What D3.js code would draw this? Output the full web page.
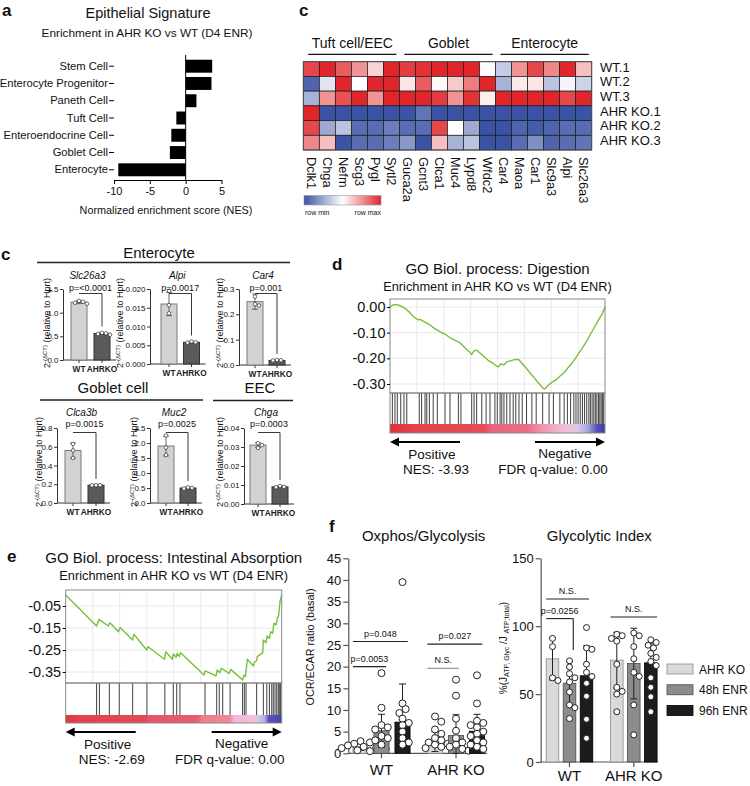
<!DOCTYPE html>
<html>
<head>
<meta charset="utf-8">
<script src="https://cdn.jsdelivr.net/npm/d3@7"></script>
<style>
html,body{margin:0;padding:0;background:#fff;}
svg{display:block;}
</style>
</head>
<body>
<svg id="fig" width="750" height="786" xmlns="http://www.w3.org/2000/svg"></svg>
<script>
// ================= DATA =================
// Panel a: NES bars
const nesCategories = ["Stem Cell","Enterocyte Progenitor","Paneth Cell","Tuft Cell","Enteroendocrine Cell","Goblet Cell","Enterocyte"];
const nesValues = [3.7, 3.6, 1.5, -1.3, -2.0, -2.2, -9.4];
const nesTicks = [-10, -5, 0, 5];

// Panel c: heatmap
const heatGenes = ["Dclk1","Chga","Nefm","Scg3","Pygl","Sytl2","Guca2a","Gcnt3","Clca1","Muc4","Lypd8","Wfdc2","Car4","Maoa","Car1","Slc9a3","Alpi","Slc26a3"];
const heatSamples = ["WT.1","WT.2","WT.3","AHR KO.1","AHR KO.2","AHR KO.3"];
const heatGroups = ["Tuft cell/EEC","Goblet","Enterocyte"];
const heatGroupSizes = [6, 6, 6];
const heatWT1 = [0.85,1,0.75,0.5,0.2,1, 0.9,0.95,1,1,1,0.02, -0.3,0.5,0.85,0.55,1,0.3];
const heatWT2 = [-0.9,-0.15,1,0,1,1, 0.12,0.75,0.03,0.25,0.6,1, -0.45,0.1,0.12,-0.35,-0.05,-0.25];
const heatWT3 = [-0.45,0.5,0.8,1,0.5,1, 1,1,0.9,0.5,0.95,0.08, 1,1,1,1,0.85,1];
const heatKO1 = [1,-1,-1,-1,-1,-1, -1,-0.8,-1,-1,-1,-1, -1,-1,-1,-1,-1,-1];
const heatKO2 = [0.85,-0.5,-0.35,-0.85,-0.85,-0.75, -0.85,-0.85,0.85,0,-0.5,-1, -1,-0.9,-0.95,-0.9,-0.85,-0.85];
const heatKO3 = [0.55,0.3,-1,-0.85,-0.85,-0.75, -0.6,-1,0.3,-0.45,-0.35,-1, -1,-0.85,-0.65,-0.9,-0.85,-0.8];
const heatLegendLabels = ["row min","row max"];

// Panel c: qPCR
const qpcrGenes = ["Slc26a3","Alpi","Car4","Clca3b","Muc2","Chga"];
const qpcrGroupLabels = ["WT","AHRKO"];
const qpcrWTMean = [1.22, 0.0160, 0.25, 0.56, 1.90, 0.031];
const qpcrKOMean = [0.56, 0.0058, 0.018, 0.19, 0.50, 0.009];
const qpcrWTSD = [0.03, 0.0031, 0.03, 0.08, 0.33, 0.0012];
const qpcrKOSD = [0.02, 0.0002, 0.002, 0.004, 0.03, 0.0004];
const qpcrWTPoints = [[1.25,1.23,1.21,1.19],[0.0195,0.0157,0.0135],[0.27,0.24,0.235],[0.63,0.56,0.48],[2.25,1.85,1.6],[0.032,0.031,0.0295]];
const qpcrKOPoints = [[0.575,0.565,0.55,0.535],[0.006,0.0058,0.0057],[0.02,0.019,0.018],[0.19,0.19,0.188],[0.52,0.5,0.48],[0.0095,0.009,0.0088]];
const qpcrPValues = ["p=<0.0001","p=0.0017","p=0.001","p=0.0015","p=0.0025","p=0.0003"];
const qpcrYMax = [1.5, 0.020, 0.3, 0.8, 2.5, 0.04];
const qpcrYStep = [0.5, 0.005, 0.1, 0.2, 0.5, 0.01];
const qpcrDecimals = [1, 3, 1, 1, 1, 2];
const qpcrSections = ["Enterocyte","Goblet cell","EEC"];

// Panel d: GSEA Digestion
const esDRank = [0,1.5,3,5,7,9,11,13,14,16,18.6,21,24,26,28,30,32.6,35,37,38,39,40.3,42,44,46,48,49.5,50.4,51.5,53,54.3,56,58,59.7,61,63,65,67,68.5,70,71,72,73,75,77,79,81,83,85,87,89,91,93,95,97,98.5,100];
const esDScore = [0,0.008,0.01,0.004,-0.005,-0.02,-0.038,-0.05,-0.048,-0.058,-0.07,-0.085,-0.1,-0.108,-0.12,-0.128,-0.14,-0.16,-0.175,-0.185,-0.172,-0.168,-0.18,-0.195,-0.21,-0.22,-0.23,-0.233,-0.222,-0.225,-0.214,-0.21,-0.205,-0.204,-0.215,-0.235,-0.255,-0.275,-0.29,-0.305,-0.315,-0.32,-0.31,-0.295,-0.285,-0.27,-0.255,-0.235,-0.215,-0.19,-0.165,-0.14,-0.11,-0.08,-0.05,-0.03,0];
const hitsD = [1.1,2.3,3.4,5,6.5,7.8,13.6,14.7,16.3,17.1,18.3,20.1,22,25.6,27.9,31.8,33,38,39.1,40.3,42.7,44.7,46.5,48.8,49.9,51.2,52,53,54.3,55.8,57.3,58.5,60,61.5,63.5,66,68,71,74,76,79,81,82.5,84,85.5,86.5,87.5,88.5,89.5,90.5,91.5,92.5,93.2,94,94.8,95.5,96.2,97,97.6,98.2,98.8,99.4];
const esDTicks = [0, -0.1, -0.2, -0.3];

// Panel e: GSEA Intestinal absorption
const esERank = [0,14.3,15.4,19.7,20.5,24.4,25.2,31,31.6,37.5,38.1,45.7,46.3,49.4,49.8,51.1,51.7,52.6,53.2,64,64.6,69.6,70.2,71.4,72,75.7,76.4,81.9,82.5,83.2,84.1,86.9,87.2,88.4,88.7,91.2,91.5,92.7,93.3,94.3,94.9,95.8,96.4,97.4,98,98.6,99.2,100];
const esEScore = [0,-0.141,-0.111,-0.141,-0.126,-0.167,-0.148,-0.205,-0.179,-0.25,-0.235,-0.292,-0.258,-0.292,-0.268,-0.283,-0.265,-0.28,-0.262,-0.364,-0.345,-0.368,-0.341,-0.353,-0.333,-0.356,-0.338,-0.386,-0.364,-0.371,-0.292,-0.323,-0.308,-0.298,-0.28,-0.262,-0.205,-0.217,-0.186,-0.197,-0.167,-0.174,-0.129,-0.136,-0.106,-0.091,-0.03,0];
const hitsE = [14.3,15.6,20.2,24.8,31,37.6,45.9,49.8,51.4,52.9,64.5,69.9,71.1,72.7,76.1,81.9,82.7,83.5,88.4,91.5,93.1,94.3,95.4,96.1,96.9,97.7,98.4,98.9,99.5];
const esETicks = [-0.05, -0.15, -0.25, -0.35];

// Panel f
const metabGroups = ["WT","AHR KO"];
const metabConditions = ["AHR KO","48h ENR","96h ENR"];
const oxMean = [[1.5, 5.2, 7.2],[2.7, 4.1, 5.1]];
const oxSD = [[0.8, 3.8, 8.8],[2.3, 4.8, 3.9]];
const oxPoints = [
  [[2.8,2.2,1.8,1.5,1.2,1.0,0.7,0.5,1.3,2.5],
   [18.5,10.5,6.5,6.0,5.5,4.0,3.5,3.0,2.0],
   [39.5,11.5,10.2,9.3,8.0,7.0,6.5,5.0,3.5,2.5,2.0]],
  [[8.5,7.3,5.5,4.5,3.5,2.5,2.0,1.5,1.0,1.2,2.2,3.0],
   [17.0,13.3,8.0,5.2,3.5,2.5,2.0,1.5,1.0,0.6],
   [18.0,11.5,7.5,7.0,6.5,6.0,5.0,4.5,4.0,3.0,2.5,2.0,1.5,1.0]]
];
const oxTicks = [0,5,10,15,20,25,30,35,40,45];
const oxSigLabels = ["p=0.048","p=0.0053","p=0.027","N.S."];
const glyMean = [[76, 58, 63.5],[75, 72.5, 73]];
const glySD = [[15.6, 16, 22],[20.5, 26, 14]];
const glyPoints = [
  [[91,85,62,60],
   [74.5,70,65,62,59,51.5,42,40,32],
   [99,84,83,72,66,63,58,48.5,31.5,17.5]],
  [[94,93,91,89,72,55,52,50,37],
   [95,93,85,76,66,63,42,20],
   [90,88,86,84,80,77,74,71,62,55,48,37]]
];
const glyTicks = [0,50,100,150];
const glySigLabels = ["N.S.","p=0.0256","N.S."];

// ================= DRAWING =================
const FONT = '"Liberation Sans", Arial, Helvetica, sans-serif';
const svg = d3.select("#fig").attr("font-family", FONT);
svg.append("defs");

function txt(g, x, y, s, o = {}) {
  const t = g.append("text").attr("x", x).attr("y", y).text(s)
    .attr("font-size", o.size || 12).attr("text-anchor", o.anchor || "start").attr("fill", o.fill || "#111");
  if (o.weight) t.attr("font-weight", o.weight);
  if (o.style) t.attr("font-style", o.style);
  return t;
}
function styleAxis(g, size) {
  g.attr("font-family", FONT).attr("font-size", size);
  g.selectAll("text").attr("fill", "#111");
}
function swarm(values, yScale, cx, r, spread) {
  const placed = [];
  const order = values.map(v => ({ v, y: yScale(v) })).sort((a, b) => b.v - a.v);
  const cands = [0];
  for (let j = 1; j < 30; j++) cands.push(j * spread, -j * spread);
  order.forEach(p => {
    let x = cx;
    for (const dx of cands) {
      if (placed.every(q => Math.hypot(q.x - (cx + dx), q.y - p.y) >= 2 * r * 0.92)) { x = cx + dx; break; }
    }
    placed.push({ x, y: p.y });
  });
  return placed;
}

// ---------- Panel a ----------
{
  const g = svg.append("g");
  txt(g, 2, 16, "a", { size: 17, weight: "bold" });
  txt(g, 148, 18, "Epithelial Signature", { size: 14.5, anchor: "middle" });
  txt(g, 147, 37, "Enrichment in AHR KO vs WT (D4 ENR)", { size: 11.8, anchor: "middle" });
  const x = d3.scaleLinear().domain([-10, 5]).range([114, 221.5]);
  const y = d3.scaleBand().domain(nesCategories).range([58, 178]).paddingInner(0.25).paddingOuter(0.1);
  g.selectAll("rect.nes").data(nesValues).join("rect").attr("class", "nes")
    .attr("x", d => x(Math.min(0, d))).attr("width", d => Math.abs(x(d) - x(0)))
    .attr("y", (d, i) => y(nesCategories[i])).attr("height", y.bandwidth()).attr("fill", "#000");
  const xa = g.append("g").attr("transform", "translate(0,180)")
    .call(d3.axisBottom(x).tickValues(nesTicks).tickSize(4).tickSizeOuter(0).tickFormat(d => String(d)));
  styleAxis(xa, 11);
  g.append("line").attr("x1", x(0)).attr("x2", x(0)).attr("y1", 55).attr("y2", 180).attr("stroke", "#000");
  const ya = g.append("g").attr("transform", "translate(114,0)").call(d3.axisLeft(y).tickSize(5).tickPadding(1));
  ya.select(".domain").remove();
  styleAxis(ya, 11.2);
  txt(g, 166, 214, "Normalized enrichment score (NES)", { size: 10.8, anchor: "middle" });
}

// ---------- Panel c heatmap ----------
{
  const g = svg.append("g");
  txt(g, 299, 16, "c", { size: 17, weight: "bold" });
  const x = d3.scaleBand().domain(heatGenes).range([303.3, 591.7]);
  const y = d3.scaleBand().domain(heatSamples).range([61.7, 150]);
  const color = d3.scaleLinear().domain([-1, 0, 1]).range(["#3a53a4", "#ffffff", "#e1262b"]);
  const rows = [heatWT1, heatWT2, heatWT3, heatKO1, heatKO2, heatKO3];
  rows.forEach((row, ri) => {
    g.selectAll(null).data(row).join("rect")
      .attr("x", (d, i) => x(heatGenes[i])).attr("y", y(heatSamples[ri]))
      .attr("width", x.bandwidth()).attr("height", y.bandwidth())
      .attr("fill", d => color(d)).attr("stroke", "#1a1a1a").attr("stroke-width", 0.7);
  });
  g.append("rect").attr("x", 303.3).attr("y", 61.7).attr("width", 288.4).attr("height", 88.3)
    .attr("fill", "none").attr("stroke", "#555").attr("stroke-width", 1);
  heatSamples.forEach(s => txt(g, 600, y(s) + y.bandwidth() / 2 + 2.5, s, { size: 13 }));
  heatGenes.forEach(gn => {
    g.append("text").attr("transform", `translate(${x(gn) + x.bandwidth() / 2},157) rotate(90)`)
      .attr("dy", "0.35em").attr("font-size", 12.8).attr("fill", "#111").text(gn);
  });
  let start = 0;
  heatGroups.forEach((gr, i) => {
    const a = x(heatGenes[start]), b = x(heatGenes[start + heatGroupSizes[i] - 1]) + x.bandwidth();
    g.append("line").attr("x1", a + 5).attr("x2", b - 3).attr("y1", 54.3).attr("y2", 54.3).attr("stroke", "#111").attr("stroke-width", 1.3);
    txt(g, (a + b) / 2 + 1, 48, gr, { size: 14, anchor: "middle" });
    start += heatGroupSizes[i];
  });
  const lg = svg.select("defs").append("linearGradient").attr("id", "hmgrad");
  [[0, "#3a53a4"], [0.5, "#ffffff"], [1, "#e1262b"]].forEach(s => lg.append("stop").attr("offset", s[0]).attr("stop-color", s[1]));
  g.append("rect").attr("x", 304).attr("y", 195.5).attr("width", 77).attr("height", 9.5).attr("fill", "url(#hmgrad)").attr("stroke", "#999").attr("stroke-width", 0.6);
  txt(g, 305, 215, heatLegendLabels[0], { size: 7 });
  txt(g, 381, 215, heatLegendLabels[1], { size: 7, anchor: "end" });
}

// ---------- Panel c qPCR ----------
{
  const g = svg.append("g");
  txt(g, 1, 260, "c", { size: 17, weight: "bold" });
  txt(g, 159, 258, qpcrSections[0], { size: 15, anchor: "middle" });
  g.append("line").attr("x1", 37).attr("x2", 290).attr("y1", 262.5).attr("y2", 262.5).attr("stroke", "#222").attr("stroke-width", 1.6);
  txt(g, 113, 393, qpcrSections[1], { size: 15, anchor: "middle" });
  g.append("line").attr("x1", 40).attr("x2", 203).attr("y1", 400).attr("y2", 400).attr("stroke", "#222").attr("stroke-width", 1.6);
  txt(g, 260, 393, qpcrSections[2], { size: 15, anchor: "middle" });
  g.append("line").attr("x1", 213).attr("x2", 293).attr("y1", 400.5).attr("y2", 400.5).attr("stroke", "#222").attr("stroke-width", 1.6);

  const L = [
    { ax: 63, zero: 360, top: 289, wt: 79, ko: 102, yl: 50, row: 0 },
    { ax: 150, zero: 364, top: 289, wt: 169, ko: 191.5, yl: 123, row: 0 },
    { ax: 239, zero: 365, top: 289, wt: 255, ko: 277, yl: 223, row: 0 },
    { ax: 57, zero: 503, top: 428, wt: 73, ko: 96, yl: 42, row: 1 },
    { ax: 150, zero: 503, top: 428, wt: 166, ko: 188, yl: 137, row: 1 },
    { ax: 244, zero: 504, top: 428, wt: 258, ko: 280, yl: 223, row: 1 },
  ];
  const bw = 16;
  qpcrGenes.forEach((gene, i) => {
    const l = L[i];
    const y = d3.scaleLinear().domain([0, qpcrYMax[i]]).range([l.zero, l.top]);
    const ticks = d3.range(0, qpcrYMax[i] + qpcrYStep[i] / 2, qpcrYStep[i]);
    const ya = g.append("g").attr("transform", `translate(${l.ax},0)`)
      .call(d3.axisLeft(y).tickValues(ticks).tickSize(3).tickPadding(1.5).tickSizeOuter(0).tickFormat(d => d.toFixed(qpcrDecimals[i])));
    styleAxis(ya, 8);
    ya.selectAll("path,line").attr("stroke", "#333");
    g.append("line").attr("x1", l.ax).attr("x2", l.ko + 14).attr("y1", l.zero).attr("y2", l.zero).attr("stroke", "#333");
    [l.wt, l.ko].forEach((cx, k) => {
      g.append("line").attr("x1", cx).attr("x2", cx).attr("y1", l.zero).attr("y2", l.zero + 3).attr("stroke", "#333");
      txt(g, cx, l.zero + 11.5, qpcrGroupLabels[k], { size: 8.3, anchor: "middle", weight: "bold", fill: "#222" });
    });
    const means = [qpcrWTMean[i], qpcrKOMean[i]];
    const sds = [qpcrWTSD[i], qpcrKOSD[i]];
    const pts = [qpcrWTPoints[i], qpcrKOPoints[i]];
    [l.wt, l.ko].forEach((cx, k) => {
      g.append("rect").attr("x", cx - bw / 2).attr("y", y(means[k])).attr("width", bw).attr("height", l.zero - y(means[k]))
        .attr("fill", k === 0 ? "#d2d2d2" : "#5a5a5a").attr("stroke", k === 0 ? "#7a7a7a" : "#333").attr("stroke-width", 1);
      const hi = y(means[k] + sds[k]), lo = y(Math.max(0, means[k] - sds[k]));
      g.append("line").attr("x1", cx).attr("x2", cx).attr("y1", hi).attr("y2", lo).attr("stroke", "#444").attr("stroke-width", 0.8);
      g.append("line").attr("x1", cx - 3).attr("x2", cx + 3).attr("y1", hi).attr("y2", hi).attr("stroke", "#444").attr("stroke-width", 0.8);
      g.append("line").attr("x1", cx - 3).attr("x2", cx + 3).attr("y1", lo).attr("y2", lo).attr("stroke", "#444").attr("stroke-width", 0.8);
      swarm(pts[k], y, cx, 1.8, 2).forEach(p => {
        g.append("circle").attr("cx", p.x).attr("cy", p.y).attr("r", 1.8).attr("fill", "#fff").attr("stroke", "#333").attr("stroke-width", 0.7);
      });
    });
    const mid = (l.wt + l.ko) / 2;
    txt(g, mid - 3, l.row === 0 ? 279 : 416, gene, { size: 10, anchor: "middle", style: "italic" });
    txt(g, mid, l.row === 0 ? 290.5 : 426.5, qpcrPValues[i], { size: 9, anchor: "middle" });
    const by = l.top + 4.5;
    const koTop = y(qpcrKOMean[i] + qpcrKOSD[i]) - 6;
    g.append("path").attr("d", `M${l.wt},${by}H${l.ko}V${koTop}`).attr("fill", "none").attr("stroke", "#222").attr("stroke-width", 0.9);
    const cy = l.row === 0 ? 323 : 462;
    const t = g.append("text").attr("transform", `translate(${l.yl},${cy}) rotate(-90)`).attr("text-anchor", "middle").attr("font-size", 9).attr("fill", "#111");
    t.append("tspan").text("2");
    t.append("tspan").attr("dy", -3.5).attr("font-size", 6).text("-(ΔCT)");
    t.append("tspan").attr("dy", 3.5).text(" (relative to Hprt)");
  });
}

// ---------- GSEA panels ----------
function gsea(cfg) {
  const g = svg.append("g");
  const { x0, x1, top, yES, yHits, yBar } = cfg;
  const x = d3.scaleLinear().domain([0, 100]).range([x0, x1]);
  const y = d3.scaleLinear().domain(cfg.yDom).range(cfg.yRange);
  txt(g, cfg.lx, cfg.ly, cfg.letter, { size: 17, weight: "bold" });
  txt(g, (x0 + x1) / 2, cfg.ty, cfg.title, { size: 15, anchor: "middle" });
  txt(g, (x0 + x1) / 2, cfg.ty + 17, "Enrichment in AHR KO vs WT (D4 ENR)", { size: 12.8, anchor: "middle" });
  d3.range(1, 8).forEach(k => {
    const gx = x0 + (x1 - x0) * k / 8;
    g.append("line").attr("x1", gx).attr("x2", gx).attr("y1", top).attr("y2", yES).attr("stroke", "#e4e4e4").attr("stroke-width", 0.8);
  });
  cfg.ticks.forEach(t => {
    g.append("line").attr("x1", x0).attr("x2", x1).attr("y1", y(t)).attr("y2", y(t)).attr("stroke", "#e4e4e4").attr("stroke-width", 0.8);
  });
  const line = d3.line().x(d => x(d[0])).y(d => y(d[1]));
  g.append("path").datum(cfg.rank.map((r, i) => [r, cfg.score[i]])).attr("d", line)
    .attr("fill", "none").attr("stroke", "#78bf3a").attr("stroke-width", 1.4).attr("stroke-linejoin", "round");
  g.append("rect").attr("x", x0).attr("y", top).attr("width", x1 - x0).attr("height", yES - top).attr("fill", "none").attr("stroke", "#888").attr("stroke-width", 1);
  const ya = g.append("g").attr("transform", `translate(${x0},0)`)
    .call(d3.axisLeft(y).tickValues(cfg.ticks).tickSize(3).tickPadding(1.5).tickFormat(d => d.toFixed(2)));
  ya.select(".domain").remove();
  styleAxis(ya, 14.5);
  g.selectAll(null).data(cfg.hits).join("line")
    .attr("x1", d => x(d)).attr("x2", d => x(d)).attr("y1", yES).attr("y2", yHits)
    .attr("stroke", "#2a2a2a").attr("stroke-width", 0.9);
  const gid = "gb" + cfg.letter;
  const lg = svg.select("defs").append("linearGradient").attr("id", gid);
  cfg.bar.forEach(s => lg.append("stop").attr("offset", s[0]).attr("stop-color", s[1]));
  g.append("rect").attr("x", x0).attr("y", yHits).attr("width", x1 - x0).attr("height", yBar - yHits).attr("fill", `url(#${gid})`);
  g.append("rect").attr("x", x0).attr("y", yES).attr("width", x1 - x0).attr("height", yBar - yES).attr("fill", "none").attr("stroke", "#888").attr("stroke-width", 1);
  const ay = yBar + 9;
  g.append("line").attr("x1", x0 + 7).attr("x2", x0 + 70).attr("y1", ay).attr("y2", ay).attr("stroke", "#000").attr("stroke-width", 2);
  g.append("path").attr("d", `M${x0},${ay}l9,-4.5v9z`).attr("fill", "#000");
  g.append("line").attr("x1", x1 - 70).attr("x2", x1 - 7).attr("y1", ay).attr("y2", ay).attr("stroke", "#000").attr("stroke-width", 2);
  g.append("path").attr("d", `M${x1},${ay}l-9,-4.5v9z`).attr("fill", "#000");
  txt(g, x0 + 42, ay + 17, "Positive", { size: 13.5, anchor: "middle" });
  txt(g, x0 + 46, ay + 32, cfg.nes, { size: 13.5, anchor: "middle" });
  txt(g, x1 - 40, ay + 16, "Negative", { size: 13.5, anchor: "middle" });
  txt(g, x1 - 52, ay + 32, "FDR q-value: 0.00", { size: 13.5, anchor: "middle" });
}
gsea({
  letter: "d", lx: 332, ly: 270, title: "GO Biol. process: Digestion", ty: 274,
  x0: 390, x1: 605, top: 299, yES: 393, yHits: 424, yBar: 433,
  yDom: [0, -0.3], yRange: [307, 384], ticks: esDTicks,
  rank: esDRank, score: esDScore, hits: hitsD, nes: "NES: -3.93",
  bar: [[0, "#df3338"], [0.12, "#e2434a"], [0.44, "#e44e57"], [0.47, "#e8647a"], [0.64, "#ea6e85"], [0.7, "#ef93aa"], [0.8, "#f4bad4"], [0.87, "#dcc8e6"], [0.92, "#a8a4dc"], [0.96, "#5656b8"], [1, "#3a3aa6"]]
});
gsea({
  letter: "e", lx: 7, ly: 562, title: "GO Biol. process: Intestinal Absorption", ty: 563,
  x0: 65.7, x1: 281.7, top: 590, yES: 683, yHits: 715, yBar: 723,
  yDom: [0, -0.35], yRange: [595, 672], ticks: esETicks,
  rank: esERank, score: esEScore, hits: hitsE, nes: "NES: -2.69",
  bar: [[0, "#df3439"], [0.06, "#e2414a"], [0.37, "#e44a52"], [0.38, "#e45466"], [0.61, "#e75e6f"], [0.63, "#ee7d8b"], [0.76, "#f08896"], [0.78, "#f7b7d6"], [0.87, "#f2c0dc"], [0.89, "#cfcbea"], [0.92, "#b6b4e2"], [0.94, "#5656b8"], [1, "#4242aa"]]
});

// ---------- Panel f ----------
const barFill = ["#d9d9d9", "#8c8c8c", "#1c1c1c"];
const barStroke = ["#8a8a8a", "#4a4a4a", "#000"];
function metab(cfg) {
  const g = svg.append("g");
  const y = d3.scaleLinear().domain([0, cfg.max]).range([cfg.zero, cfg.topY]);
  const gx = d3.scalePoint().domain(metabGroups).range(cfg.groupX);
  const inner = d3.scaleBand().domain(metabConditions).range([-cfg.half, cfg.half]).paddingInner(cfg.pad).paddingOuter(cfg.pad / 2);
  txt(g, (cfg.axisX + cfg.axisEnd) / 2 + cfg.titleDx, 540.7, cfg.title, { size: 15, anchor: "middle" });
  const ya = g.append("g").attr("transform", `translate(${cfg.axisX},0)`)
    .call(d3.axisLeft(y).tickValues(cfg.ticks).tickSize(5).tickPadding(2).tickSizeOuter(0));
  styleAxis(ya, 13);
  ya.selectAll("path,line").attr("stroke", "#555").attr("stroke-width", 1.2);
  g.append("line").attr("x1", cfg.axisX).attr("x2", cfg.axisEnd).attr("y1", cfg.zero).attr("y2", cfg.zero).attr("stroke", "#555").attr("stroke-width", 1.2);
  metabGroups.forEach((grp, gi) => {
    g.append("line").attr("x1", gx(grp)).attr("x2", gx(grp)).attr("y1", cfg.zero).attr("y2", cfg.zero + 5).attr("stroke", "#555").attr("stroke-width", 1.2);
    txt(g, gx(grp), cfg.zero + cfg.labelDy, grp, { size: 15, anchor: "middle" });
    metabConditions.forEach((cond, ci) => {
      const bx = gx(grp) + inner(cond), cx = bx + inner.bandwidth() / 2;
      const m = cfg.mean[gi][ci], sd = cfg.sd[gi][ci];
      g.append("rect").attr("x", bx).attr("y", y(m)).attr("width", inner.bandwidth()).attr("height", cfg.zero - y(m))
        .attr("fill", barFill[ci]).attr("stroke", barStroke[ci]).attr("stroke-width", 0.8);
      const hi = y(m + sd), lo = y(Math.max(0, m - sd));
      g.append("line").attr("x1", cx).attr("x2", cx).attr("y1", hi).attr("y2", lo).attr("stroke", "#222").attr("stroke-width", 1);
      g.append("line").attr("x1", cx - 3.5).attr("x2", cx + 3.5).attr("y1", hi).attr("y2", hi).attr("stroke", "#222").attr("stroke-width", 1);
      g.append("line").attr("x1", cx - 3.5).attr("x2", cx + 3.5).attr("y1", lo).attr("y2", lo).attr("stroke", "#222").attr("stroke-width", 1);
      swarm(cfg.points[gi][ci], y, cx, cfg.r, cfg.r * 0.9).forEach(p => {
        g.append("circle").attr("cx", p.x).attr("cy", p.y).attr("r", cfg.r).attr("fill", "#fff").attr("stroke", "#222").attr("stroke-width", 1);
      });
    });
  });
  cfg.sig.forEach((s, k) => {
    const grp = metabGroups[s.g];
    const xa = gx(grp) + inner(metabConditions[s.from]);
    const xb = gx(grp) + inner(metabConditions[s.to]) + inner.bandwidth() * s.toFrac;
    const ly = y(s.level);
    g.append("line").attr("x1", xa).attr("x2", xb).attr("y1", ly).attr("y2", ly).attr("stroke", s.gray ? "#999" : "#222").attr("stroke-width", 1.1);
    if (s.drop != null) g.append("line").attr("x1", xb).attr("x2", xb).attr("y1", ly).attr("y2", y(s.drop)).attr("stroke", "#222").attr("stroke-width", 1.1);
    txt(g, (xa + xb) / 2, ly - 5, cfg.sigLabels[k], { size: 9, anchor: "middle" });
  });
}
txt(svg, 329, 532, "f", { size: 17, weight: "bold" });
metab({
  title: "Oxphos/Glycolysis", titleDx: 6, max: 45, zero: 753.3, topY: 558.3, axisX: 348.3, axisEnd: 487, labelDy: 22,
  groupX: [381.5, 456], half: 31.5, pad: 0.28, ticks: oxTicks, r: 3.5,
  mean: oxMean, sd: oxSD, points: oxPoints, sigLabels: oxSigLabels,
  sig: [{ g: 0, from: 0, to: 2, toFrac: 0.85, level: 25.8 }, { g: 0, from: 0, to: 1, toFrac: 0.8, level: 20 },
        { g: 1, from: 0, to: 2, toFrac: 0.85, level: 25.2 }, { g: 1, from: 0, to: 1, toFrac: 0.7, level: 19.6, gray: true }]
});
svg.append("text").attr("transform", "translate(314,647) rotate(-90)").attr("text-anchor", "middle").attr("font-size", 10.8).attr("fill", "#111").text("OCR/ECAR ratio (basal)");
metab({
  title: "Glycolytic Index", titleDx: 0, max: 150, zero: 762, topY: 558.3, axisX: 540.7, axisEnd: 658, labelDy: 19,
  groupX: [569.5, 633.8], half: 25.5, pad: 0.26, ticks: glyTicks, r: 3,
  mean: glyMean, sd: glySD, points: glyPoints, sigLabels: glySigLabels,
  sig: [{ g: 0, from: 0, to: 2, toFrac: 0.7, level: 120 }, { g: 0, from: 0, to: 1, toFrac: 0.8, level: 105.6, drop: 82.5 },
        { g: 1, from: 0, to: 2, toFrac: 1, level: 106.8 }]
});
{
  const t = svg.append("text").attr("transform", "translate(507,648) rotate(-90)").attr("text-anchor", "middle").attr("font-size", 10).attr("fill", "#111");
  t.append("tspan").text("%(J");
  t.append("tspan").attr("dy", 2).attr("font-size", 7).text("ATP, Glyc");
  t.append("tspan").attr("dy", -2).text(" /J ");
  t.append("tspan").attr("dy", 2).attr("font-size", 7).text("ATP;total");
  t.append("tspan").attr("dy", -2).text(")");
  const lgd = svg.append("g");
  const ly = d3.scaleBand().domain(metabConditions).range([660, 716]).paddingInner(0.3);
  metabConditions.forEach((c, i) => {
    lgd.append("rect").attr("x", 667).attr("y", ly(c) + 4).attr("width", 26).attr("height", 10)
      .attr("fill", barFill[i]).attr("stroke", barStroke[i]).attr("stroke-width", 0.8);
    txt(lgd, 699, ly(c) + 13.5, c, { size: 12 });
  });
}
</script>
</body>
</html>
